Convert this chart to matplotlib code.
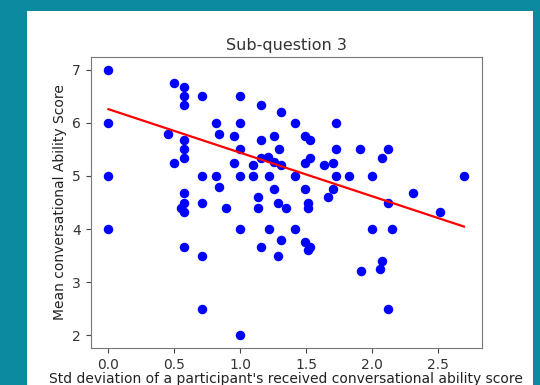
import matplotlib.pyplot as plt
from matplotlib.patches import Rectangle

# std deviation of received score (x) and mean score (y)
std_dev = [
    0.0, 0.0, 0.0, 0.0,
    0.5, 0.577, 0.577, 0.577, 0.707,
    0.45, 0.577, 0.577, 0.577, 0.5,
    0.707, 0.816, 0.837, 0.816, 0.837,
    0.957, 0.957,
    0.577, 0.577, 0.548, 0.577, 0.707, 0.894,
    0.577, 0.707, 0.707,
    1.0, 1.155, 1.307, 1.0, 1.414, 1.73,
    1.155, 1.256, 1.49, 1.527,
    1.0, 1.294, 1.73, 1.91,
    1.096, 1.155, 1.213, 1.256, 1.307, 1.49, 1.527, 1.636, 1.705,
    1.0, 1.096, 1.218, 1.414, 1.73, 1.826,
    1.256, 1.49, 1.705, 1.67,
    1.137, 1.137, 1.289, 1.345, 1.517, 1.517,
    1.0, 1.218, 1.414, 1.307, 1.155, 1.49, 1.527, 1.517, 1.289,
    1.918, 1.0,
    2.12, 2.08, 2.0, 2.7, 2.31, 2.12, 2.52, 2.0, 2.157, 2.075, 2.06, 2.12,
]
mean_score = [
    7.0, 6.0, 5.0, 4.0,
    6.75, 6.67, 6.5, 6.33, 6.5,
    5.8, 5.67, 5.5, 5.33, 5.25,
    5.0, 6.0, 5.8, 5.0, 4.8,
    5.75, 5.25,
    4.67, 4.5, 4.4, 4.33, 4.5, 4.4,
    3.67, 3.5, 2.5,
    6.5, 6.33, 6.2, 6.0, 6.0, 6.0,
    5.67, 5.75, 5.75, 5.67,
    5.5, 5.5, 5.5, 5.5,
    5.2, 5.33, 5.35, 5.26, 5.2, 5.25, 5.33, 5.2, 5.25,
    5.0, 5.0, 5.0, 5.0, 5.0, 5.0,
    4.75, 4.75, 4.75, 4.6,
    4.6, 4.4, 4.5, 4.4, 4.5, 4.4,
    4.0, 4.0, 4.0, 3.8, 3.67, 3.75, 3.67, 3.6, 3.5,
    3.2, 2.0,
    5.5, 5.33, 5.0, 5.0, 4.67, 4.5, 4.33, 4.0, 4.0, 3.4, 3.25, 2.5,
]

# fitted regression line
fit_intercept = 6.26
fit_slope = -0.82

fig = plt.figure(figsize=(5.4, 3.85), dpi=100, facecolor="#0c8a9f")
# white card behind the plot
card = Rectangle((27 / 540, 0), 506 / 540, 374 / 385,
                 transform=fig.transFigure, facecolor="white",
                 edgecolor="none", zorder=-10)
fig.patches.append(card)

ax = fig.add_axes([90.7 / 540, 1 - 348.3 / 385, 391 / 540, 291.6 / 385])
ax.set_zorder(1)
ax.scatter(std_dev, mean_score, color="blue", s=34, zorder=2)

x_line = [min(std_dev), max(std_dev)]
y_line = [fit_intercept + fit_slope * x for x in x_line]
ax.plot(x_line, y_line, color="red", linewidth=1.6, zorder=3)

ax.set_title("Sub-question 3", fontsize=11.5, color="#333333", pad=5)
ax.set_xlabel("Std deviation of a participant's received conversational ability score",
              fontsize=10, color="#222222", labelpad=0)
ax.set_ylabel("Mean conversational Ability Score", fontsize=10, color="#222222")
ax.tick_params(labelsize=10, colors="#444444", labelcolor="#333333")
for sp in ax.spines.values():
    sp.set_color("#777777")

fig.savefig("out.png", dpi=100, facecolor=fig.get_facecolor())
